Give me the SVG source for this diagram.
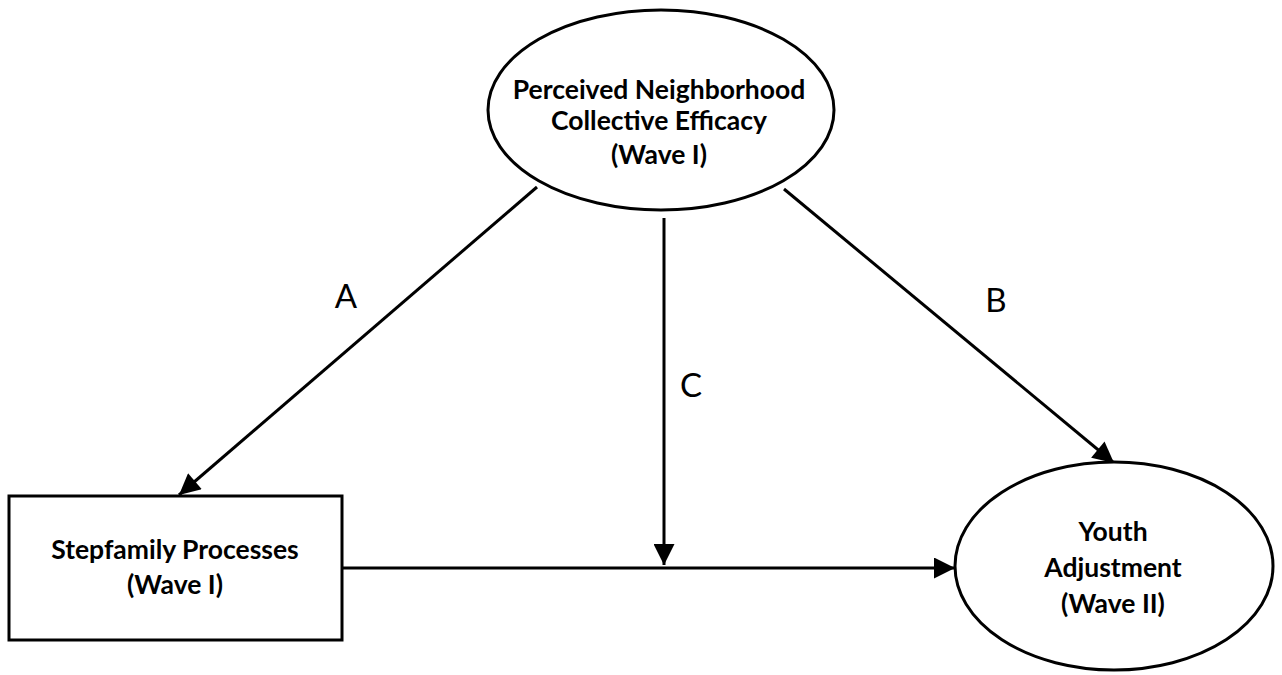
<svg xmlns="http://www.w3.org/2000/svg" width="1282" height="675" viewBox="0 0 1282 675">
<style>
.shape{fill:#fff;stroke:#000;stroke-width:3}
.lbl{font-family:Lato,"Liberation Sans",sans-serif;font-weight:bold;font-size:26.5px;text-anchor:middle;fill:#000}
.edge{stroke:#000;stroke-width:3;fill:none;marker-end:url(#ah)}
.el{font-family:Lato,"Liberation Sans",Arial,sans-serif;font-size:33px;fill:#000;text-anchor:middle}
</style>
<defs>
<marker id="ah" viewBox="0 0 10 10" refX="10" refY="5" markerWidth="7.5" markerHeight="7" markerUnits="strokeWidth" orient="auto">
<path d="M0,0 L10,5 L0,10 z" fill="#000"/>
</marker>
</defs>
<rect width="1282" height="675" fill="#fff"/>
<g id="connectors">
<line class="edge" x1="537" y1="187" x2="179" y2="495"/>
<line class="edge" x1="784" y1="189" x2="1114" y2="463"/>
<line class="edge" x1="664" y1="218" x2="664" y2="565"/>
<line class="edge" x1="343" y1="568" x2="955" y2="568"/>
<text class="el" x="346" y="308">A</text>
<text class="el" x="996" y="312">B</text>
<text class="el" x="691" y="397">C</text>
</g>
<g id="node-efficacy">
<ellipse class="shape" cx="661" cy="110" rx="173" ry="100"/>
<text class="lbl" x="659" y="99">Perceived Neighborhood</text>
<text class="lbl" x="659" y="130">Collective Efficacy</text>
<text class="lbl" x="659" y="164">(Wave I)</text>
</g>
<g id="node-stepfamily">
<rect class="shape" x="9" y="496" width="333" height="144"/>
<text class="lbl" x="175" y="559">Stepfamily Processes</text>
<text class="lbl" x="175" y="594">(Wave I)</text>
</g>
<g id="node-youth">
<ellipse class="shape" cx="1114" cy="566" rx="159" ry="104"/>
<text class="lbl" x="1113" y="541">Youth</text>
<text class="lbl" x="1113" y="577">Adjustment</text>
<text class="lbl" x="1113" y="613">(Wave II)</text>
</g>
</svg>
